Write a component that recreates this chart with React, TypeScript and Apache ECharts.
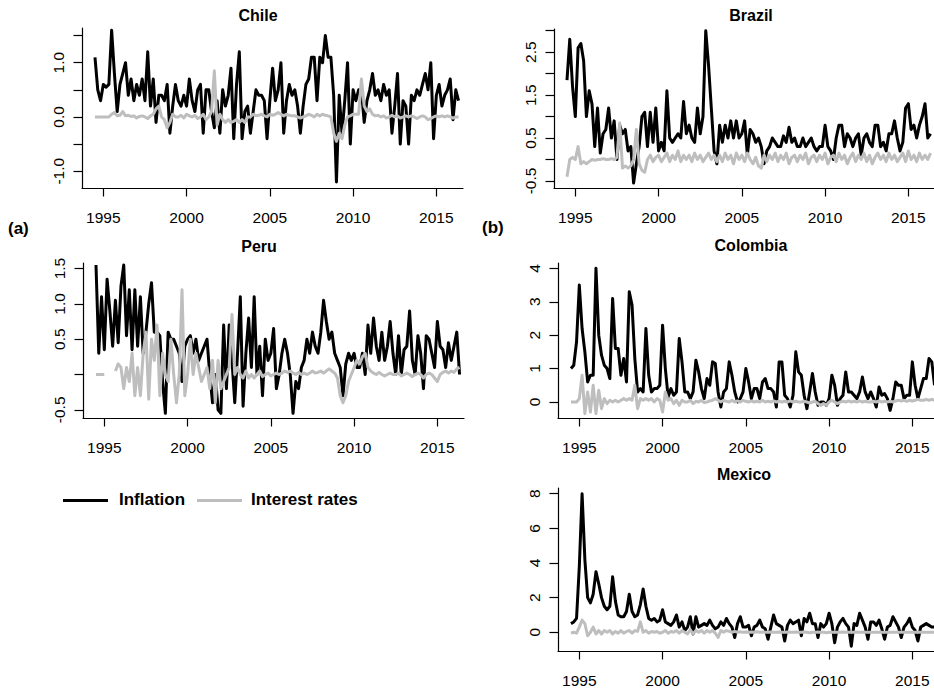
import React, { useEffect, useRef } from "react";
import * as echarts from "echarts";

const FONT = "'Liberation Sans', Arial, Helvetica, sans-serif";

// sampling of the series: every two months from mid-1994
const FIRST_YEAR = 1994.5;
const STEP_YEARS = 1 / 6;

const xTickYears = [1995, 2000, 2005, 2010, 2015];
const X_MIN = 1993.72;
const X_MAX = 2016.6;

const chileInflation = [
  1.1, 0.5, 0.3, 0.6, 0.55, 0.6,
  1.6, 0.8, 0.1, 0.6, 0.8, 1.0,
  0.4, 0.7, 0.3, 0.6, 0.4, 0.7,
  0.3, 1.2, 0.2, 0.7, -0.1, 0.4,
  0.4, 0.3, 0.6, -0.3, 0.2, 0.6,
  0.3, 0.2, 0.4, 0.2, 0.7, 0.3,
  0.1, 0.5, 0.6, -0.3, 0.5, 0.5,
  0.1, -0.2, 0.3, -0.3, 0.5, 0.2,
  0.4, 0.9, -0.4, 0.6, 1.2, -0.4,
  0.1, 0.2, -0.3, 0.1, 0.5, 0.4,
  0.4, 0.3, -0.4, 0.3, 0.9, 0.3,
  0.5, 1.0, -0.3, 0.3, 0.6, 0.4,
  0.5, 0.2, -0.3, 0.2, 0.6, 0.7,
  1.1, 1.1, 0.3, 1.1, 1.0, 1.5,
  1.1, 1.1, 0.4, -1.2, 0.4, -0.3,
  0.3, 1.0, -0.5, 0.5, 0.3, 0.5,
  0.5, -0.1, 0.3, 0.5, 0.8, 0.4,
  0.5, 0.3, 0.6, 0.4, 0.5, -0.3,
  0.2, 0.8, -0.5, 0.3, 0.2, -0.5,
  0.4, 0.3, 0.5, 0.4, 0.6, 0.8,
  0.5, 1.0, -0.4, 0.4, 0.6, 0.2,
  0.4, 0.5, 0.7, -0.05, 0.5, 0.3,
];
const chileInterest = [
  0, 0, 0, 0, 0, 0,
  0.05, 0.08, 0.02, 0.03, 0.1, 0.02,
  0.03, 0.01, 0.02, -0.02, 0.01, 0.02,
  0.0, -0.03, 0.02, 0.05, 0.15, 0.2,
  0.0, -0.05, -0.2, -0.1, 0.05, 0.0,
  0.0, 0.03, -0.02, 0.05, 0.02, 0.0,
  0.03, -0.03, 0.0, 0.05, -0.05, 0.0,
  0.1, 0.85, -0.15, 0.05, -0.05, -0.1,
  -0.05, -0.1, -0.08, -0.05, -0.1, -0.05,
  -0.1, 0.0, 0.0, 0.05, 0.02, 0.03,
  0.05, 0.02, 0.0, 0.05, 0.03, 0.05,
  0.08, 0.05, 0.02, 0.05, 0.03, 0.02,
  0.02, 0.0, -0.02, 0.0, 0.02, 0.05,
  0.03, 0.0, 0.05, 0.02, 0.05, 0.03,
  0.02, 0.0, -0.3, -0.45, -0.3, -0.4,
  -0.15, 0.0, 0.02, 0.05, 0.05, 0.05,
  0.7, 0.2, 0.1, 0.15, 0.05, 0.02,
  0.03, 0.0, 0.02, -0.02, 0.0, 0.03,
  0.0, 0.02, -0.02, 0.0, 0.02, 0.0,
  0.02, 0.0, -0.03, 0.0, 0.02, 0.0,
  -0.05, -0.03, 0.0, 0.02, 0.0, 0.02,
  0.0, 0.02, 0.0, -0.02, 0.0, 0.0,
];

const brazilInflation = [
  1.85, 2.8, 1.7, 1.0, 2.6, 2.7,
  2.3, 1.0, 1.6, 1.3, 0.3, 1.2,
  0.15, 0.6, 0.7, 1.2, 0.5, 0.9,
  0.0, 0.8, 0.6, 0.7, 0.2, 0.3,
  -0.55, -0.1, 0.3, 1.0, 1.1, 0.3,
  1.1, 0.4, 1.2, 0.2, 0.4, 0.2,
  1.6, 0.5, 0.4, 0.5, 0.6, 0.5,
  1.35, 0.6, 0.8, 0.5, 0.4, 1.2,
  0.6, 1.0, 3.0, 2.2, 1.2, 0.2,
  -0.1, 0.8, 0.4, 0.8, 0.5, 0.9,
  0.5, 0.9, 0.5, 0.6, 0.9, 0.1,
  0.7, 0.6, 0.4, 0.5, 0.3, -0.1,
  0.2, 0.3, 0.5, 0.4, 0.3, 0.3,
  0.55, 0.4, 0.75, 0.4, 0.5, 0.3,
  0.3, 0.5, 0.3, 0.4, 0.5, 0.3,
  0.2, 0.3, 0.3, 0.8, 0.3, 0.2,
  0.0, 0.5, 0.8, 0.8, 0.3, 0.6,
  0.5, 0.3, 0.5, 0.6, 0.1, 0.5,
  0.6, 0.4, 0.3, 0.8, 0.8, 0.3,
  0.4, 0.2, 0.6, 0.6, 0.9, 0.5,
  0.2, 0.4, 1.2, 1.3, 0.7, 0.8,
  0.5, 0.8, 1.0, 1.3, 0.5, 0.6,
];
const brazilInterest = [
  -0.4, 0.0, 0.05, 0.0, 0.3, -0.1,
  -0.05, -0.1, -0.05, 0.0, -0.02, 0.0,
  0.0, 0.02, 0.0, 0.0, 0.02, 0.0,
  0.05, 0.85, -0.2, -0.15, -0.2, -0.15,
  0.0, 0.7, -0.1, -0.25, -0.3, 0.0,
  0.1, -0.05, 0.05, 0.1, -0.05, 0.05,
  0.15, -0.05, 0.1, 0.0, 0.2, -0.05,
  0.1, 0.0, 0.1, -0.05, 0.15, 0.0,
  0.1, -0.05, 0.05, 0.15, 0.0, 0.1,
  -0.05, 0.1, -0.05, 0.15, 0.0, 0.1,
  -0.1, 0.15, 0.0, 0.1, -0.05, 0.15,
  0.0, -0.1, 0.05, -0.15, -0.2, 0.1,
  -0.05, 0.1, 0.0, 0.15, -0.05, 0.1,
  0.0, 0.15, -0.1, 0.05, 0.1, -0.05,
  0.1, 0.0, 0.15, -0.1, 0.05, 0.1,
  -0.05, 0.1, 0.0, 0.15, -0.1, 0.05,
  0.1, -0.05, 0.15, 0.0, 0.1, -0.1,
  0.05, 0.15, -0.05, 0.1, 0.0, 0.15,
  -0.05, 0.1, -0.1, 0.05, 0.15, 0.0,
  0.1, -0.05, 0.15, 0.0, 0.1, -0.05,
  0.05, 0.15, -0.05, 0.2, 0.0, 0.1,
  -0.05, 0.15, 0.0, 0.1, 0.0, 0.15,
];

const peruInflation = [
  1.55, 0.3, 1.1, 0.35, 1.35, 0.9,
  0.4, 1.05, 0.45, 1.25, 1.55, 0.55,
  1.2, 0.35, 1.2, 0.4, 1.1, 0.3,
  0.6, 1.0, 1.3, 0.6, 0.6, 0.55,
  -0.1, -0.55, 0.6, 0.5, 0.5, 0.4,
  0.3, -0.1, 0.4, 0.5, 0.55, 0.3,
  0.5, 0.2, 0.3, 0.4, 0.5, 0.0,
  -0.4, 0.0, -0.5, -0.55, 0.7, -0.2,
  0.7, 0.2, -0.4, 0.3, 1.1, -0.45,
  0.3, 0.8, 0.1, 1.1, 0.0, 0.4,
  -0.3, 0.5, 0.2, 0.3, 0.65, -0.2,
  0.0, 0.3, 0.5, 0.3, 0.0, -0.55,
  -0.1, -0.2, 0.1, 0.2, 0.5, 0.3,
  0.6, 0.4, 0.3, 0.6, 1.05, 0.75,
  0.5, 0.6, 0.3, 0.2, 0.1, -0.3,
  0.15, 0.3, 0.2, 0.3, 0.1, 0.1,
  0.3, 0.0, 0.7, 0.3, 0.8, 0.4,
  0.2, 0.6, 0.2, 0.4, 0.75, 0.3,
  0.0, 0.55, 0.0, 0.35, 0.4, 0.9,
  0.2, 0.0, 0.55, 0.3, -0.2, 0.55,
  0.5, 0.3, 0.1, 0.75, 0.4, 0.35,
  0.1, 0.45, 0.2, 0.4, 0.6, 0.0,
];
const peruInterest = [
  0, 0, 0, 0, null, null,
  null, 0.05, 0.15, 0.1, -0.2, 0.1,
  -0.1, 0.3, -0.3, 0.1, -0.3, 0.3,
  0.6, -0.35, 0.5, 0.2, 0.7, -0.3,
  0.3, 0.0, -0.1, 0.5, 0.0, -0.4,
  0.0, 1.2, -0.3, 0.0, 0.5, 0.0,
  0.3, 0.1, -0.1, 0.0, 0.1, -0.2,
  0.2, -0.4, 0.2, -0.2, -0.1, 0.0,
  0.1, 0.85, 0.0, 0.1, 0.0, -0.05,
  0.05, -0.05, 0.0, -0.05, 0.0, 0.05,
  -0.03, 0.0, 0.02, -0.02, 0.0, 0.02,
  0.0, 0.02, 0.05, 0.03, 0.05, 0.02,
  0.0, 0.03, 0.0, 0.02, 0.0, 0.02,
  0.05, 0.02, 0.03, 0.05, 0.02, 0.05,
  0.08, 0.05, 0.02, -0.05, -0.3, -0.4,
  -0.3, -0.1, 0.0, 0.1, 0.2, 0.15,
  0.25, 0.3, 0.1, 0.05, 0.02, 0.0,
  0.03, 0.0, -0.02, 0.0, 0.02, 0.0,
  0.0, 0.02, -0.02, 0.0, 0.02, 0.0,
  -0.03, 0.0, 0.02, 0.0, -0.05, 0.0,
  0.02, 0.0, -0.05, -0.1, 0.0, 0.03,
  0.05, 0.02, 0.05, 0.03, 0.08, 0.1,
];

const colombiaInflation = [
  1.0, 1.1, 1.8, 3.5, 2.2, 1.5,
  0.6, 0.8, 0.8, 4.0, 2.0, 1.4,
  1.1, 1.0, 0.7, 3.1, 1.6, 1.6,
  0.8, 1.3, 0.6, 3.3, 2.9, 1.3,
  0.3, 0.4, 0.3, 2.2, 0.8, 0.3,
  0.4, 0.4, 0.5, 2.3, 1.0, 0.15,
  0.4, 0.2, 0.3, 1.9, 1.2, 0.3,
  0.3, 0.1, 0.3, 1.25, 0.9, 0.4,
  0.1, 0.7, 0.5, 1.2, 1.15, 0.3,
  -0.15, 0.3, 0.4, 1.2, 0.8, 0.3,
  0.0, 0.1, 0.3, 1.0, 0.6, 0.1,
  0.4, 0.4, 0.1, 0.6, 0.7, 0.4,
  0.4, 0.3, -0.15, 1.2, 1.2, 0.2,
  0.1, -0.15, 0.2, 1.5, 0.9, 0.8,
  0.2, -0.2, 0.3, 0.85, 0.3, -0.1,
  0.0, 0.0, -0.1, 0.1, 0.8, 0.5,
  -0.1, 0.1, 0.2, 0.9, 0.3, 0.3,
  0.2, 0.1, 0.3, 0.75, 0.3, 0.1,
  0.3, 0.1, -0.15, 0.45, 0.2, 0.25,
  0.1, -0.25, 0.1, 0.6, 0.5, 0.5,
  0.1, 0.2, 0.2, 1.2, 0.5, 0.1,
  0.4, 0.7, 0.7, 1.3, 1.2, 0.5,
];
const colombiaInterest = [
  0, 0, 0, 0.1, 0.8, -0.35,
  0.3, -0.3, 0.5, -0.35, 0.35, -0.2,
  0.1, -0.05, 0.05, 0.0, 0.05, 0.0,
  0.05, 0.1, 0.05, 0.1, 0.05, 0.5,
  -0.2, 0.1, 0.05, 0.1, 0.05, 0.1,
  0.0, 0.1, 0.05, -0.3, 0.3, 0.05,
  0.1, -0.05, 0.05, -0.1, 0.05, 0.0,
  0.0, 0.05, -0.05, 0.02, 0.0, 0.05,
  -0.02, 0.0, 0.03, 0.05, 0.1, 0.05,
  0.0, 0.05, 0.02, 0.0, 0.05, 0.0,
  0.03, 0.0, 0.05, 0.02, 0.0, 0.03,
  0.0, 0.02, 0.0, 0.05, 0.0, 0.02,
  0.0, 0.03, 0.0, 0.02, 0.0, 0.02,
  0.0, 0.03, 0.0, 0.02, 0.0, 0.0,
  0.02, 0.0, -0.03, 0.0, 0.02, -0.05,
  -0.1, -0.05, -0.1, 0.0, 0.05, 0.0,
  -0.05, 0.0, 0.02, 0.0, 0.03, 0.0,
  0.02, 0.0, 0.03, 0.0, 0.02, 0.0,
  0.0, 0.02, 0.0, 0.03, 0.0, 0.02,
  0.0, 0.02, 0.0, 0.03, 0.05, 0.03,
  0.05, 0.02, 0.05, 0.03, 0.05, 0.08,
  0.05, 0.05, 0.08, 0.05, 0.08, 0.05,
];

const mexicoInflation = [
  0.5, 0.6, 0.8, 3.8, 8.0, 4.2,
  2.0, 1.7, 2.2, 3.5, 2.8, 2.0,
  1.5, 1.3, 1.5, 3.2, 1.8, 1.0,
  0.9, 0.9, 1.2, 2.2, 1.2, 0.9,
  1.0, 1.6, 2.5, 1.5, 0.8, 0.7,
  0.8, 0.6, 0.7, 1.3, 0.6, 0.5,
  0.4, 0.6, 1.0, 0.3, 0.6, 0.1,
  0.3, 0.9, -0.1, 0.9, 0.3, 0.4,
  0.5, 0.4, 0.7, 0.4, 0.2, 0.3,
  0.6, 0.4, 0.8, 0.5, 0.3, -0.3,
  0.5, 0.9, 0.3, 0.3, 0.4, -0.2,
  0.3, 0.4, 0.7, 0.3, 0.2, -0.4,
  0.3, 1.0, 0.5, 0.4, 0.3, -0.5,
  0.4, 0.7, 0.5, 0.6, 0.7, -0.2,
  0.8, 0.6, 1.1, 0.5, 0.5, -0.3,
  0.5, 0.3, 0.5, 1.1, 0.5, -0.6,
  0.3, 0.6, 0.8, 0.5, 0.3, -0.8,
  0.5, 0.4, 1.1, 0.7, 0.3, -0.4,
  0.6, 0.6, 0.4, 0.7, 0.2, -0.4,
  0.3, 0.4, 0.9, 0.6, 0.3, -0.3,
  0.3, 0.5, 0.8, 0.3, 0.1, -0.5,
  0.3, 0.4, 0.5, 0.4, 0.3, 0.3,
];
const mexicoInterest = [
  -0.05, 0.0, -0.05, 0.3, 0.7, 0.5,
  -0.2, 0.0, 0.3, -0.1, 0.1, -0.1,
  0.1, 0.0, 0.1, -0.1, 0.05, -0.05,
  0.1, -0.05, 0.05, 0.1, -0.05, 0.1,
  0.05, 0.6, 0.0, 0.1, -0.05, 0.05,
  0.0, 0.05, -0.05, 0.0, 0.1, -0.05,
  0.05, 0.0, 0.1, -0.05, 0.1, 0.0,
  -0.1, 0.15, -0.1, 0.1, 0.0, 0.1,
  -0.05, 0.1, 0.0, 0.1, -0.05, -0.3,
  0.1, 0.0, 0.1, 0.05, 0.0, 0.05,
  0.0, 0.03, 0.0, 0.02, 0.0, 0.02,
  0.0, 0.03, 0.0, 0.02, 0.0, 0.0,
  0.02, 0.0, 0.0, 0.02, 0.0, 0.0,
  0.02, 0.0, 0.0, 0.02, 0.0, 0.0,
  0.02, 0.0, -0.03, 0.0, 0.0, 0.02,
  0.0, 0.0, -0.02, 0.0, 0.0, 0.0,
  0.0, 0.0, 0.02, 0.0, 0.0, 0.0,
  0.0, 0.02, 0.0, 0.0, 0.0, 0.0,
  0.0, 0.0, 0.0, 0.0, 0.0, 0.0,
  0.0, 0.0, 0.0, 0.0, 0.0, 0.0,
  0.0, 0.0, 0.0, 0.0, 0.0, 0.0,
  0.0, 0.0, 0.0, 0.0, 0.0, 0.0,
];

const chileYTicks = [-1, -0.5, 0, 0.5, 1, 1.5];
const chileYLabels = [-1, 0, 1];
const brazilYTicks = [-0.5, 0, 0.5, 1, 1.5, 2, 2.5, 3];
const brazilYLabels = [-0.5, 0.5, 1.5, 2.5];
const peruYTicks = [-0.5, 0, 0.5, 1, 1.5];
const peruYLabels = [-0.5, 0.5, 1, 1.5];
const colombiaYTicks = [0, 1, 2, 3, 4];
const colombiaYLabels = [0, 1, 2, 3, 4];
const mexicoYTicks = [0, 2, 4, 6, 8];
const mexicoYLabels = [0, 2, 4, 6, 8];

const seriesNames = ["Inflation", "Interest rates"];
const INFLATION_COLOR = "#000000";
const RATE_COLOR = "#bebebe";
const PLOT_WIDTH = 381;
const LINE_W = 3;

const panels = [
  { title: "Chile", infl: chileInflation, rate: chileInterest, yTicks: chileYTicks, yLabels: chileYLabels, decimals: 1,
    left: 82, top: 28, height: 160, yMin: -1.31, yMax: 1.64, titleX: 258, titleY: 15 },
  { title: "Brazil", infl: brazilInflation, rate: brazilInterest, yTicks: brazilYTicks, yLabels: brazilYLabels, decimals: 1,
    left: 554, top: 29, height: 159, yMin: -0.664, yMax: 3.04, titleX: 751, titleY: 15 },
  { title: "Peru", infl: peruInflation, rate: peruInterest, yTicks: peruYTicks, yLabels: peruYLabels, decimals: 1,
    left: 83, top: 263, height: 155, yMin: -0.616, yMax: 1.579, titleX: 259, titleY: 246 },
  { title: "Colombia", infl: colombiaInflation, rate: colombiaInterest, yTicks: colombiaYTicks, yLabels: colombiaYLabels, decimals: 0,
    left: 558, top: 263, height: 155, yMin: -0.48, yMax: 4.16, titleX: 751, titleY: 245 },
  { title: "Mexico", infl: mexicoInflation, rate: mexicoInterest, yTicks: mexicoYTicks, yLabels: mexicoYLabels, decimals: 0,
    left: 558, top: 488, height: 163, yMin: -1.08, yMax: 8.33, titleX: 744, titleY: 474 },
];

function toPairs(values: (number | null)[]) {
  return values.map((v, i) => [FIRST_YEAR + i * STEP_YEARS, v === null ? "-" : v]);
}

function buildOption() {
  const axisLineStyle = { color: "#000", width: 1.2 };
  const labelStyle = { color: "#000", fontSize: 15.5, fontFamily: FONT };
  const grid = panels.map((p) => ({
    left: p.left, top: p.top, width: PLOT_WIDTH, height: p.height,
    containLabel: false, outerBoundsMode: "none",
  }));
  const xAxis = panels.map((p, k) => ({
    gridIndex: k, type: "value", min: X_MIN, max: X_MAX,
    axisLine: { show: true, onZero: false, lineStyle: axisLineStyle },
    axisTick: { show: true, length: 8.5, customValues: xTickYears, lineStyle: axisLineStyle },
    axisLabel: { ...labelStyle, customValues: xTickYears, margin: 21, formatter: (v: number) => String(Math.round(v)) },
    splitLine: { show: false },
  }));
  const yAxis = panels.map((p, k) => ({
    gridIndex: k, type: "value", min: p.yMin, max: p.yMax,
    axisLine: { show: true, onZero: false, lineStyle: axisLineStyle },
    axisTick: { show: true, length: 8.5, customValues: p.yTicks, lineStyle: axisLineStyle },
    axisLabel: { ...labelStyle, customValues: p.yLabels, rotate: 90, margin: 16,
      formatter: (v: number) => Number(v).toFixed(p.decimals) },
    splitLine: { show: false },
  }));
  const series: any[] = [];
  panels.forEach((p, k) => {
    series.push({
      name: seriesNames[0], type: "line", xAxisIndex: k, yAxisIndex: k,
      data: toPairs(p.infl), symbol: "none", color: INFLATION_COLOR,
      lineStyle: { color: INFLATION_COLOR, width: LINE_W, join: "round" }, silent: true, z: 2,
    });
    series.push({
      name: seriesNames[1], type: "line", xAxisIndex: k, yAxisIndex: k,
      data: toPairs(p.rate), symbol: "none", color: RATE_COLOR, connectNulls: false,
      lineStyle: { color: RATE_COLOR, width: LINE_W, join: "round" }, silent: true, z: 3,
    });
  });
  const titleStyle = { fill: "#000", fontSize: 16, fontWeight: "bold", fontFamily: FONT };
  const graphic: any[] = panels.map((p) => ({
    type: "text", x: p.titleX, y: p.titleY,
    style: { ...titleStyle, text: p.title, textAlign: "center", textVerticalAlign: "middle" },
  }));
  graphic.push(
    { type: "text", x: 8, y: 228, style: { ...titleStyle, fontSize: 17, text: "(a)", textAlign: "left", textVerticalAlign: "middle" } },
    { type: "text", x: 482, y: 227, style: { ...titleStyle, fontSize: 17, text: "(b)", textAlign: "left", textVerticalAlign: "middle" } },
    { type: "line", shape: { x1: 63, y1: 500.5, x2: 108, y2: 500.5 }, style: { stroke: INFLATION_COLOR, lineWidth: LINE_W } },
    { type: "text", x: 119, y: 499, style: { ...titleStyle, fontSize: 17, text: seriesNames[0], textAlign: "left", textVerticalAlign: "middle" } },
    { type: "line", shape: { x1: 197, y1: 500.5, x2: 242, y2: 500.5 }, style: { stroke: RATE_COLOR, lineWidth: LINE_W } },
    { type: "text", x: 251, y: 499, style: { ...titleStyle, fontSize: 17, text: seriesNames[1], textAlign: "left", textVerticalAlign: "middle" } },
  );
  return {
    animation: false,
    backgroundColor: "#ffffff",
    textStyle: { fontFamily: FONT },
    grid, xAxis, yAxis, series, graphic,
  };
}

export default function App() {
  const ref = useRef<HTMLDivElement>(null);
  useEffect(() => {
    if (!ref.current) return;
    const chart = echarts.init(ref.current, null, { renderer: "svg" });
    chart.setOption(buildOption() as any);
    return () => chart.dispose();
  }, []);
  return (
    <div
      ref={ref}
      style={{ position: "absolute", left: 0, top: 0, width: 934, height: 693, background: "#fff" }}
    />
  );
}
